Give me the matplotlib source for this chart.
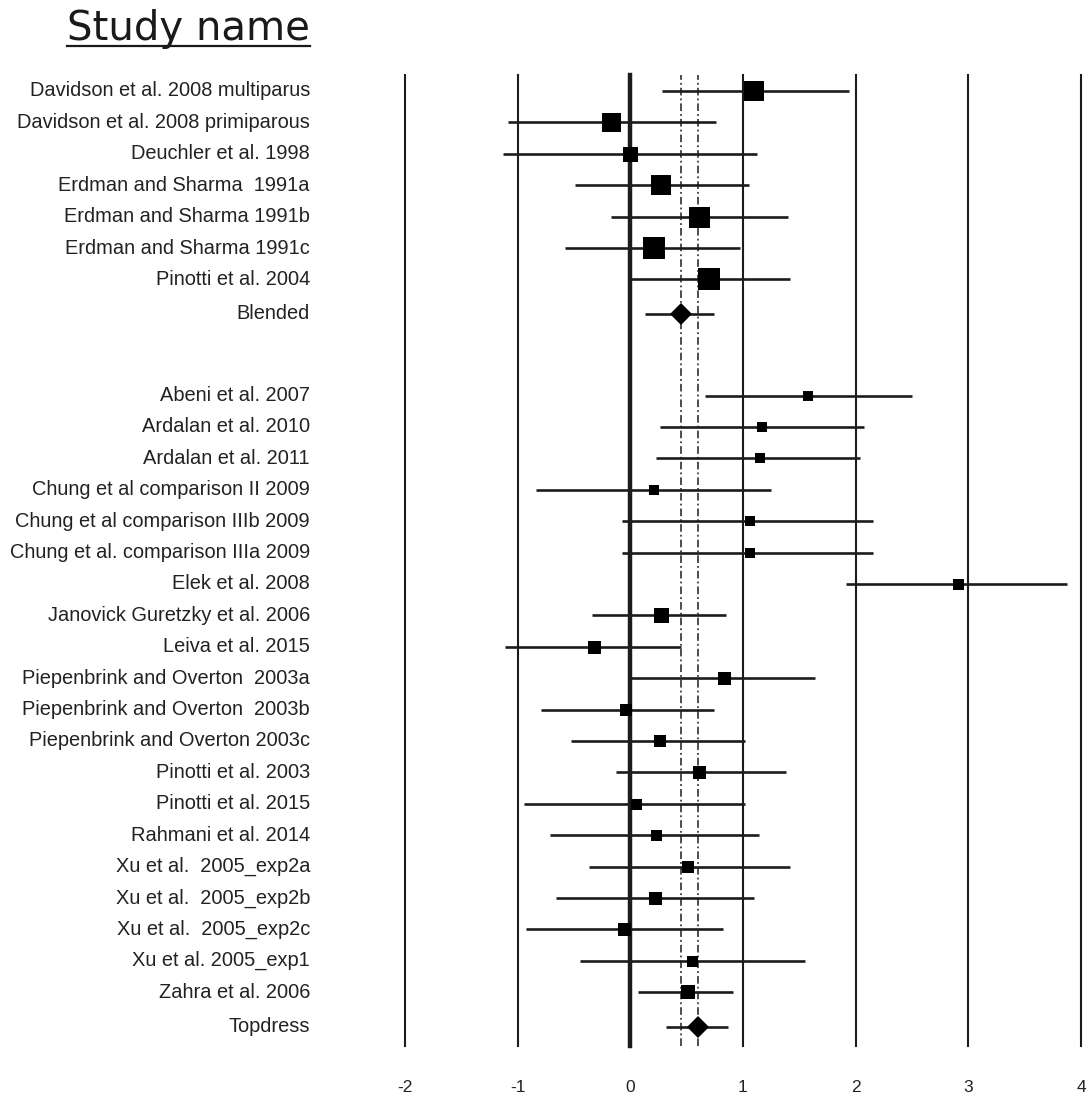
import matplotlib
matplotlib.use("Agg")
import matplotlib.pyplot as plt
from matplotlib.transforms import blended_transform_factory

# ---- data -------------------------------------------------------------
blended_names = [
    "Davidson et al. 2008 multiparus",
    "Davidson et al. 2008 primiparous",
    "Deuchler et al. 1998",
    "Erdman and Sharma  1991a",
    "Erdman and Sharma 1991b",
    "Erdman and Sharma 1991c",
    "Pinotti et al. 2004",
]
blended_est = [1.10, -0.17, 0.00, 0.27, 0.61, 0.21, 0.70]
blended_lo = [0.28, -1.09, -1.13, -0.49, -0.17, -0.58, 0.01]
blended_hi = [1.94, 0.76, 1.12, 1.05, 1.40, 0.97, 1.42]
blended_weight = [20, 19, 15, 20.5, 21, 22.5, 23]

blended_summary = ("Blended", 0.45, 0.13, 0.74)

topdress_names = [
    "Abeni et al. 2007",
    "Ardalan et al. 2010",
    "Ardalan et al. 2011",
    "Chung et al comparison II 2009",
    "Chung et al comparison IIIb 2009",
    "Chung et al. comparison IIIa 2009",
    "Elek et al. 2008",
    "Janovick Guretzky et al. 2006",
    "Leiva et al. 2015",
    "Piepenbrink and Overton  2003a",
    "Piepenbrink and Overton  2003b",
    "Piepenbrink and Overton 2003c",
    "Pinotti et al. 2003",
    "Pinotti et al. 2015",
    "Rahmani et al. 2014",
    "Xu et al.  2005_exp2a",
    "Xu et al.  2005_exp2b",
    "Xu et al.  2005_exp2c",
    "Xu et al. 2005_exp1",
    "Zahra et al. 2006",
]
topdress_est = [1.58, 1.17, 1.15, 0.21, 1.06, 1.06, 2.91, 0.27, -0.32,
                0.83, -0.04, 0.26, 0.61, 0.05, 0.23, 0.51, 0.22, -0.06,
                0.55, 0.51]
topdress_lo = [0.66, 0.26, 0.23, -0.84, -0.07, -0.07, 1.91, -0.34, -1.11,
               0.01, -0.79, -0.53, -0.13, -0.94, -0.71, -0.37, -0.66, -0.93,
               -0.45, 0.07]
topdress_hi = [2.50, 2.07, 2.04, 1.25, 2.15, 2.15, 3.88, 0.85, 0.45,
               1.64, 0.74, 1.02, 1.38, 1.02, 1.14, 1.42, 1.10, 0.82,
               1.55, 0.91]
topdress_weight = [10.5, 10.5, 10.5, 10.5, 10, 10, 11, 15, 13,
                   13, 11.5, 12.5, 13, 11, 11, 12.5, 13, 13, 11, 14]

topdress_summary = ("Topdress", 0.60, 0.32, 0.87)

x_ticks = [-2, -1, 0, 1, 2, 3, 4]
x_tick_labels = ["-2", "-1", "0", "1", "2", "3", "4"]

# ---- layout -----------------------------------------------------------
W, H = 1088, 1099
DPI = 100
PX = 72.0 / DPI  # points per pixel

fig = plt.figure(figsize=(W / DPI, H / DPI), dpi=DPI)
fig.patch.set_facecolor("white")

ax_left, ax_right = 405, 1081
ax_top, ax_bottom = 75, 1046
ax = fig.add_axes([ax_left / W, 1 - ax_bottom / H,
                   (ax_right - ax_left) / W, (ax_bottom - ax_top) / H])
ax.set_xlim(-2, 4)

row_px = 31.4
first_row_px = 91
ax.set_ylim((ax_bottom - first_row_px) / row_px, (ax_top - first_row_px) / row_px)
ax.axis("off")

INK = "#1c1c1c"

# vertical reference lines
for t in x_ticks:
    ax.axvline(t, color=INK, lw=(3.2 if t == 0 else 1.5), clip_on=False, zorder=1)
for pooled in (blended_summary[1], topdress_summary[1]):
    ax.axvline(pooled, color=INK, lw=1.1, linestyle=(0, (5, 2, 1.2, 2)),
               clip_on=False, zorder=1)

# row positions
g1_rows = list(range(len(blended_names)))
g1_sum_row = g1_rows[-1] + 1.1
g2_start = 9.7
g2_rows = [g2_start + i for i in range(len(topdress_names))]
g2_sum_row = g2_rows[-1] + 1.1


def draw_studies(rows, est, lo, hi, weight):
    for r, e, a, b, w in zip(rows, est, lo, hi, weight):
        ax.plot([a, b], [r, r], color=INK, lw=1.9, solid_capstyle="butt", zorder=2)
        ax.plot([e], [r], marker="s", color="black", markersize=w * PX,
                markeredgewidth=0, zorder=3)


def draw_summary(row, summary):
    _, e, a, b = summary
    ax.plot([a, b], [row, row], color=INK, lw=1.9, solid_capstyle="butt", zorder=2)
    ax.plot([e], [row], marker="D", color="black", markersize=21 * PX / 1.414,
            markeredgewidth=0, zorder=3)


draw_studies(g1_rows, blended_est, blended_lo, blended_hi, blended_weight)
draw_summary(g1_sum_row, blended_summary)
draw_studies(g2_rows, topdress_est, topdress_lo, topdress_hi, topdress_weight)
draw_summary(g2_sum_row, topdress_summary)

# study labels, right aligned in the left margin
lab_tr = blended_transform_factory(fig.transFigure, ax.transData)
label_x = 310 / W
label_font = dict(family="Liberation Sans", size=14.4, color="#222222")
for r, name in zip(g1_rows + [g1_sum_row] + g2_rows + [g2_sum_row],
                   blended_names + [blended_summary[0]] + topdress_names + [topdress_summary[0]]):
    ax.text(label_x, r, name, transform=lab_tr, ha="right", va="center",
            clip_on=False, **label_font)

# x tick labels under the plot
tick_tr = blended_transform_factory(ax.transData, fig.transFigure)
for t, s in zip(x_ticks, x_tick_labels):
    ax.text(t, 1 - 1088 / H, s, transform=tick_tr, ha="center", va="center",
            family="Liberation Sans", size=12.5, color="#222222", clip_on=False)

# column header
title = fig.text(310 / W, 1 - 29 / H, "Study name", ha="right", va="center",
                 family="DejaVu Sans", size=29, color="#1a1a1a")
fig.canvas.draw()
bb = title.get_window_extent()
fig.add_artist(plt.Line2D([bb.x0 / W, bb.x1 / W], [1 - 46 / H, 1 - 46 / H],
                          transform=fig.transFigure, color="#1a1a1a", lw=1.6))

fig.savefig("out.png", dpi=DPI, facecolor="white")
